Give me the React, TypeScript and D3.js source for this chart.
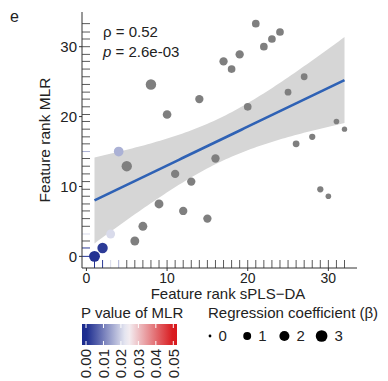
import React from "react";
import * as d3 from "d3";

// feature ranks
const rankSPLS = [21, 24, 23, 22, 19, 17, 18, 27, 8, 25, 14, 20, 10, 31, 32, 28, 26, 4, 16, 5, 11, 13, 29, 30, 9, 12, 15, 7, 3, 6, 2, 1];
const rankMLR = [33.3, 32.1, 31.1, 30.0, 28.9, 27.9, 26.8, 25.7, 24.6, 23.5, 22.5, 21.4, 20.3, 19.3, 18.2, 17.1, 16.1, 15.0, 14.0, 12.9, 11.8, 10.7, 9.6, 8.6, 7.5, 6.5, 5.4, 4.3, 3.2, 2.2, 1.2, 0];
const beta = [0.9, 0.9, 0.9, 0.9, 1.15, 1.15, 0.9, 0.6, 2.2, 0.6, 1.15, 0.9, 1.3, 0.3, 0.25, 0.45, 0.6, 1.8, 1.15, 2.15, 1.15, 1.15, 0.45, 0.3, 1.4, 1.15, 1.15, 1.4, 1.4, 1.4, 2.15, 2.5];
// null = not significant (grey)
const pValue: (number | null)[] = [null, null, null, null, null, null, null, null, null, null, null, null, null, null, null, null, null, 0.016, null, null, null, null, null, null, null, null, null, null, 0.021, null, 0.002, 0.001];

const axisTicks = [0, 10, 20, 30];
const pBreaks = [0, 0.01, 0.02, 0.03, 0.04, 0.05];
const betaBreaks = [0, 1, 2, 3];
const statLines = ["ρ = 0.52", "= 2.6e-03"];

const font = "'Liberation Sans', Arial, Helvetica, sans-serif";
const grey = "#7f7f7f";

const expand = (v: number[]) => {
  const [a, b] = d3.extent(v) as [number, number];
  const d = (b - a) * 0.05;
  return [a - d, b + d];
};

export default function App() {
  const x = d3.scaleLinear().domain(expand(rankSPLS)).range([82, 357]);
  const y = d3.scaleLinear().domain(expand(rankMLR)).range([268, 12]);
  const size = d3.scaleSqrt().domain([0, 3.2]).range([1.4, 6.0]);
  const color = d3
    .scaleLinear<string>()
    .domain([0, 0.024, 0.05])
    .range(["#1a2a8e", "#f4f4f8", "#d8181c"])
    .interpolate(d3.interpolateRgb)
    .clamp(true);
  const colOf = (p: number | null) => (p == null ? grey : color(p));

  // linear fit + 95% band
  const n = rankSPLS.length;
  const mx = d3.mean(rankSPLS) as number;
  const my = d3.mean(rankMLR) as number;
  const sxx = d3.sum(rankSPLS, (v) => (v - mx) ** 2);
  const sxy = d3.sum(rankSPLS, (v, i) => (v - mx) * (rankMLR[i] - my));
  const slope = sxy / sxx;
  const icpt = my - slope * mx;
  const sse = d3.sum(rankSPLS, (v, i) => (rankMLR[i] - (icpt + slope * v)) ** 2);
  const s = Math.sqrt(sse / (n - 2));
  const tq = 2.042;
  const [x0, x1] = d3.extent(rankSPLS) as [number, number];
  const grid = d3.range(0, 81).map((i) => x0 + ((x1 - x0) * i) / 80);
  const fit = grid.map((g) => {
    const se = s * Math.sqrt(1 / n + (g - mx) ** 2 / sxx);
    const m = icpt + slope * g;
    return { g, m, lo: m - tq * se, hi: m + tq * se };
  });
  const band = d3
    .area<(typeof fit)[0]>()
    .x((d) => x(d.g))
    .y0((d) => y(d.lo))
    .y1((d) => y(d.hi))(fit);
  const line = d3
    .line<(typeof fit)[0]>()
    .x((d) => x(d.g))
    .y((d) => y(d.m))(fit);

  const order = d3.range(n);

  // colour bar
  const barX = d3.scaleLinear().domain([0, 0.05]).range([86, 173.3]);
  const bar = { x0: 82, x1: 177, y0: 324, y1: 345 };
  const stops = d3.range(0, 21).map((i) => {
    const px = bar.x0 + ((bar.x1 - bar.x0) * i) / 20;
    return { off: i / 20, c: color(barX.invert(px)) };
  });

  return (
    <svg width={388} height={381} style={{ position: "absolute", left: 0, top: 0, display: "block", background: "#fff" }} fontFamily={font}>
      <defs>
        <linearGradient id="pbar" x1="0" x2="1" y1="0" y2="0">
          {stops.map((st, i) => (
            <stop key={i} offset={st.off} stopColor={st.c} />
          ))}
        </linearGradient>
      </defs>

      <text x={10} y={22} fontSize={16} fill="#222">e</text>

      {/* band + fit */}
      <path d={band || ""} fill="#d6d6d6" />
      <path d={line || ""} fill="none" stroke="#2f62b5" strokeWidth={2.6} />

      {/* rugs */}
      {order.map((i) => (
        <line key={"rx" + i} x1={x(rankSPLS[i])} x2={x(rankSPLS[i])} y1={268} y2={260} stroke={pValue[i] == null ? "#5a5a5a" : colOf(pValue[i])} strokeWidth={1} />
      ))}
      {order.map((i) => (
        <line key={"ry" + i} y1={y(rankMLR[i])} y2={y(rankMLR[i])} x1={82} x2={90} stroke={pValue[i] == null ? "#5a5a5a" : colOf(pValue[i])} strokeWidth={1} />
      ))}

      {/* points */}
      {order.map((i) => (
        <circle key={"p" + i} cx={x(rankSPLS[i])} cy={y(rankMLR[i])} r={size(beta[i])} fill={colOf(pValue[i])} />
      ))}

      {/* axes */}
      <line x1={82} x2={82} y1={12} y2={268} stroke="#333" strokeWidth={1} />
      <line x1={82} x2={357} y1={268} y2={268} stroke="#333" strokeWidth={1} />
      {axisTicks.map((t) => (
        <g key={"xt" + t}>
          <line x1={x(t)} x2={x(t)} y1={268} y2={271} stroke="#333" />
          <text x={x(t)} y={283} fontSize={14} textAnchor="middle" fill="#222">{t}</text>
        </g>
      ))}
      {axisTicks.map((t) => (
        <g key={"yt" + t}>
          <line x1={79} x2={82} y1={y(t)} y2={y(t)} stroke="#333" />
          <text x={77} y={y(t)} dy="0.36em" fontSize={15} textAnchor="end" fill="#222">{t}</text>
        </g>
      ))}
      <text x={228} y={299} fontSize={15} textAnchor="middle" fill="#222">Feature rank sPLS−DA</text>
      <text transform="translate(50,140) rotate(-90)" fontSize={15.5} textAnchor="middle" fill="#222">Feature rank MLR</text>

      {/* stats */}
      <text x={103} y={37} fontSize={15} fill="#222">{statLines[0]}</text>
      <text x={103} y={57} fontSize={15} fill="#222">
        <tspan fontStyle="italic">p</tspan> {statLines[1]}
      </text>

      {/* colour legend */}
      <text x={81} y={318} fontSize={15} fill="#222">P value of MLR</text>
      <rect x={bar.x0} y={bar.y0} width={bar.x1 - bar.x0} height={bar.y1 - bar.y0} fill="url(#pbar)" />
      {pBreaks.map((b) => (
        <g key={"pb" + b}>
          <line x1={barX(b)} x2={barX(b)} y1={bar.y0} y2={bar.y0 + 4} stroke="#fff" strokeWidth={1} />
          <line x1={barX(b)} x2={barX(b)} y1={bar.y1 - 4} y2={bar.y1} stroke="#fff" strokeWidth={1} />
          <text transform={`translate(${barX(b)},349) rotate(-90)`} dy="0.36em" fontSize={15} textAnchor="end" fill="#222">{b.toFixed(2)}</text>
        </g>
      ))}

      {/* size legend */}
      <text x={208} y={318} fontSize={15} fill="#222">Regression coefficient (β)</text>
      {betaBreaks.map((b, i) => {
        const cx = 210 + i * 37.2;
        return (
          <g key={"sb" + b}>
            <circle cx={cx} cy={336} r={size(b)} fill="#000" />
            <text x={cx + 7 + size(b)} y={341} fontSize={15} fill="#222">{b}</text>
          </g>
        );
      })}
    </svg>
  );
}
